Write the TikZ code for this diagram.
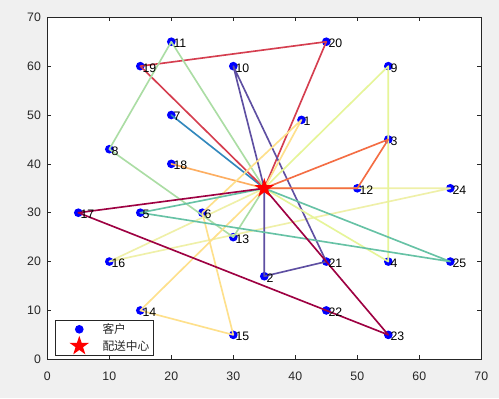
\documentclass[tikz,border=0pt]{standalone}
\usepackage{fontspec}
\setmainfont{Liberation Sans}
\newfontfamily\cjkfont{Noto Sans CJK SC}
\usetikzlibrary{shapes.geometric}
\definecolor{figBg}{HTML}{F0F0F0}
\definecolor{axGray}{HTML}{262626}
\definecolor{spA}{HTML}{9E0142}
\definecolor{spB}{HTML}{D53E4F}
\definecolor{spC}{HTML}{F46D43}
\definecolor{spD}{HTML}{FDAE61}
\definecolor{spE}{HTML}{FEE08B}
\definecolor{spF}{HTML}{EFF0A8}
\definecolor{spG}{HTML}{E6F598}
\definecolor{spH}{HTML}{ABDDA4}
\definecolor{spI}{HTML}{66C2A5}
\definecolor{spJ}{HTML}{3288BD}
\definecolor{spK}{HTML}{5E4FA2}
\tikzset{
  route/.style     = {line width=1.4pt, line join=round},
  cust/.style      = {circle, fill=blue, inner sep=0pt, minimum size=0.26cm},
  depotstar/.style = {star, star points=5, star point ratio=2.618, fill=red,
                      inner sep=0pt, minimum size=0.62cm},
  clabel/.style    = {anchor=west, inner sep=0pt, xshift=0.06cm, yshift=-0.05cm,
                      font=\fontsize{10.5}{12}\selectfont},
  tlabel/.style    = {inner sep=0pt, text=axGray, font=\fontsize{10.5}{12}\selectfont},
  axline/.style    = {axGray, line width=0.6pt}
}

\begin{document}
\begin{tikzpicture}
  \fill[figBg] (0cm,0cm) rectangle (14.97cm,11.94cm);
  \begin{scope}[shift={(1.419cm,1.161cm)}, x=0.186cm, y=0.14658cm]
    \fill[white] (0,0) rectangle (70,70);

    \foreach \n/\cx/\cy in {1/41/49, 2/35/17, 3/55/45, 4/55/20, 5/15/30,
        6/25/30, 7/20/50, 8/10/43, 9/55/60, 10/30/60, 11/20/65, 12/50/35,
        13/30/25, 14/15/10, 15/30/5, 16/10/20, 17/5/30, 18/20/40, 19/15/60,
        20/45/65, 21/45/20, 22/45/10, 23/55/5, 24/65/35, 25/65/20}
      \coordinate (c\n) at (\cx,\cy);
    \coordinate (depot) at (35,35);

    \foreach \n in {1,...,25}
      \node[cust] (m\n) at (c\n) {};

    \draw[route, spF] (depot) -- (c24) -- (c16) -- cycle;
    \draw[route, spJ] (depot) -- (c7) -- cycle;
    \draw[route, spD] (depot) -- (c18) -- cycle;
    \draw[route, spB] (depot) -- (c19) -- (c20) -- cycle;
    \draw[route, spK] (depot) -- (c10) -- (c21) -- (c2) -- cycle;
    \draw[route, spH] (depot) -- (c11) -- (c8) -- (c13) -- cycle;
    \draw[route, spG] (depot) -- (c9) -- (c4) -- cycle;
    \draw[route, spC] (depot) -- (c3) -- (c12) -- cycle;
    \draw[route, spE] (depot) -- (c1) -- (c6) -- (c15) -- (c14) -- cycle;
    \draw[route, spI] (depot) -- (c5) -- (c25) -- cycle;
    \draw[route, spA] (depot) -- (c17) -- (c22) -- (c23) -- cycle;

    \foreach \n in {1,...,25}
      \node[clabel] (t\n) at (c\n) {\n};

    \node[depotstar] (dstar) at (depot) {};

    \draw[axline] (0,0) rectangle (70,70);
    \foreach \t in {0,10,...,70} {
      \draw[axline] (\t,0) -- ++(0,0.12cm);
      \draw[axline] (\t,70) -- ++(0,-0.12cm);
      \draw[axline] (0,\t) -- ++(0.12cm,0);
      \draw[axline] (70,\t) -- ++(-0.12cm,0);
      \node[tlabel] (xl\t) at (\t,-3.4) {\t};
      \node[tlabel, anchor=east] (yl\t) at (-1,\t) {\t};
    }

    \draw[axline, fill=white] (1.35,0.88) rectangle (17.16,8.04);
    \node[cust] (legcust) at (5.16,6.14) {};
    \node[depotstar] (legdepot) at (5.16,2.72) {};
    \node[anchor=west, inner sep=0pt, text=axGray, font=\cjkfont\fontsize{10}{12}\selectfont]
      (legtxt1) at (8.87,6.14) {客户};
    \node[anchor=west, inner sep=0pt, text=axGray, font=\cjkfont\fontsize{10}{12}\selectfont]
      (legtxt2) at (8.87,2.72) {配送中心};
  \end{scope}
\end{tikzpicture}
\end{document}
